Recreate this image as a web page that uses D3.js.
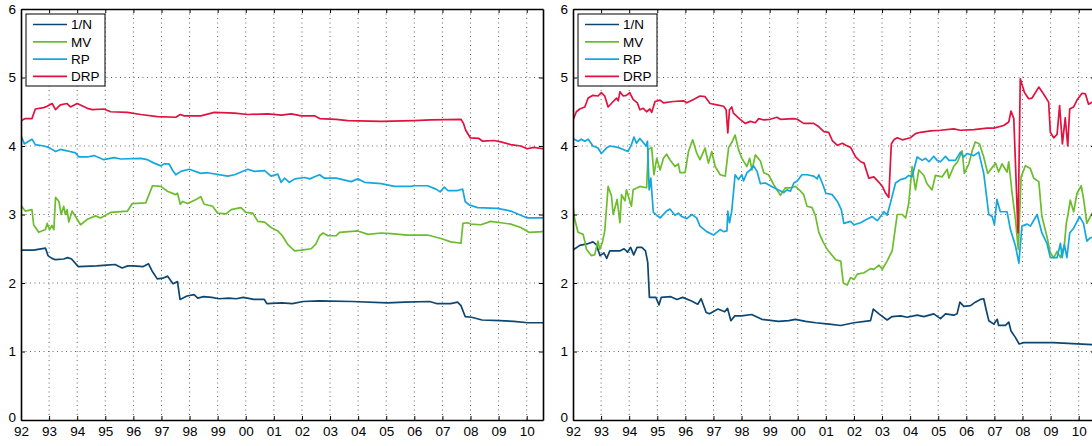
<!DOCTYPE html>
<html>
<head>
<meta charset="utf-8">
<script src="https://cdn.jsdelivr.net/npm/d3@7"></script>
<style>
  body { margin: 0; background: #fff; }
  svg { display: block; font-family: "Liberation Sans", Arial, sans-serif; }
</style>
</head>
<body>
<svg id="chart" width="1092" height="446"></svg>
<script>
// legend names and colours
const seriesNames = ["1/N", "MV", "RP", "DRP"];
const seriesColors = ["#0d4771", "#6cbd2c", "#14a7df", "#e0123f"];

// x ticks (years) and their labels
const yearTicks = d3.range(1992, 2011);
const yearLabels = ["92","93","94","95","96","97","98","99","00","01","02","03","04","05","06","07","08","09","10"];
const yTicks = [0, 1, 2, 3, 4, 5, 6];

// left panel, [year, value]
const leftN = [[1992.0,2.48],[1992.45,2.48],[1992.87,2.51],[1992.96,2.40],[1993.1,2.36],[1993.23,2.34],[1993.52,2.35],[1993.66,2.37],[1993.8,2.35],[1994.04,2.24],[1994.7,2.25],[1995.04,2.26],[1995.35,2.27],[1995.6,2.22],[1995.8,2.25],[1996.0,2.25],[1996.35,2.24],[1996.54,2.28],[1996.66,2.18],[1996.85,2.06],[1997.05,2.07],[1997.22,2.10],[1997.41,1.99],[1997.57,2.02],[1997.66,1.76],[1997.91,1.81],[1998.16,1.83],[1998.29,1.78],[1998.5,1.80],[1998.79,1.79],[1999.04,1.77],[1999.4,1.78],[1999.66,1.77],[1999.91,1.79],[2000.29,1.76],[2000.66,1.76],[2000.75,1.70],[2001.29,1.71],[2001.66,1.70],[2002.04,1.73],[2002.6,1.74],[2003.79,1.73],[2005.04,1.71],[2005.66,1.72],[2006.54,1.73],[2006.79,1.70],[2007.29,1.70],[2007.54,1.72],[2007.66,1.67],[2007.81,1.51],[2008.04,1.50],[2008.41,1.46],[2009.04,1.45],[2009.54,1.44],[2010.04,1.42],[2010.58,1.42]];
const leftMV = [[1992.0,3.13],[1992.15,3.05],[1992.39,3.07],[1992.45,2.85],[1992.63,2.74],[1992.87,2.78],[1992.93,2.87],[1993.02,2.78],[1993.1,2.84],[1993.17,2.78],[1993.23,3.25],[1993.35,3.19],[1993.43,3.0],[1993.52,3.12],[1993.58,3.0],[1993.64,3.07],[1993.7,2.89],[1993.82,3.05],[1994.0,2.93],[1994.12,2.85],[1994.36,2.93],[1994.65,2.98],[1994.83,2.95],[1995.19,3.03],[1995.79,3.05],[1995.96,3.16],[1996.44,3.17],[1996.68,3.42],[1996.98,3.41],[1997.21,3.34],[1997.51,3.29],[1997.57,3.31],[1997.67,3.15],[1997.75,3.19],[1997.93,3.16],[1998.23,3.22],[1998.4,3.26],[1998.52,3.15],[1998.82,3.12],[1999.0,3.02],[1999.3,3.01],[1999.48,3.07],[1999.83,3.10],[2000.0,3.03],[2000.25,3.02],[2000.43,2.90],[2000.67,2.89],[2000.9,2.81],[2001.14,2.76],[2001.3,2.69],[2001.5,2.56],[2001.74,2.47],[2001.98,2.48],[2002.33,2.50],[2002.5,2.57],[2002.63,2.69],[2002.75,2.73],[2002.93,2.69],[2003.22,2.69],[2003.34,2.74],[2003.99,2.76],[2004.35,2.71],[2004.82,2.73],[2005.17,2.72],[2005.76,2.70],[2006.47,2.70],[2006.95,2.65],[2007.3,2.60],[2007.66,2.58],[2007.73,2.87],[2007.9,2.88],[2008.01,2.86],[2008.37,2.85],[2008.72,2.90],[2009.08,2.88],[2009.43,2.86],[2009.79,2.81],[2010.08,2.74],[2010.58,2.75]];
const leftRP = [[1992.0,4.15],[1992.12,4.03],[1992.27,4.07],[1992.39,4.10],[1992.51,4.02],[1992.81,4.0],[1992.99,3.98],[1993.23,3.92],[1993.4,3.95],[1993.64,3.93],[1993.94,3.90],[1994.06,3.84],[1994.36,3.84],[1994.6,3.86],[1994.95,3.80],[1995.31,3.83],[1995.55,3.81],[1996.26,3.82],[1996.5,3.80],[1996.74,3.75],[1996.98,3.71],[1997.1,3.74],[1997.27,3.74],[1997.39,3.65],[1997.51,3.58],[1997.69,3.63],[1997.99,3.66],[1998.4,3.60],[1998.64,3.61],[1999.36,3.56],[1999.6,3.58],[2000.07,3.66],[2000.31,3.63],[2000.67,3.64],[2000.9,3.56],[2001.14,3.59],[2001.26,3.47],[2001.38,3.53],[2001.55,3.47],[2001.75,3.52],[2002.1,3.54],[2002.28,3.52],[2002.45,3.55],[2002.63,3.58],[2002.8,3.53],[2003.22,3.53],[2003.75,3.48],[2003.99,3.52],[2004.23,3.47],[2004.82,3.45],[2005.29,3.41],[2005.88,3.41],[2006.0,3.42],[2006.47,3.42],[2006.77,3.37],[2006.92,3.33],[2007.07,3.40],[2007.19,3.35],[2007.54,3.35],[2007.72,3.37],[2007.81,3.19],[2007.95,3.14],[2008.25,3.10],[2008.96,3.09],[2009.43,3.05],[2009.79,2.99],[2010.02,2.95],[2010.58,2.95]];
const leftDRP = [[1992.0,4.37],[1992.15,4.40],[1992.39,4.40],[1992.51,4.54],[1992.81,4.56],[1992.93,4.58],[1993.11,4.62],[1993.23,4.53],[1993.4,4.60],[1993.64,4.62],[1993.76,4.57],[1994.0,4.62],[1994.36,4.55],[1994.54,4.53],[1994.95,4.54],[1995.19,4.50],[1995.79,4.49],[1996.26,4.46],[1996.86,4.43],[1997.51,4.42],[1997.67,4.46],[1997.81,4.44],[1998.4,4.44],[1998.88,4.49],[1999.6,4.48],[2000.07,4.46],[2000.79,4.47],[2001.27,4.45],[2001.62,4.47],[2001.98,4.44],[2002.45,4.44],[2002.63,4.40],[2003.22,4.39],[2003.63,4.37],[2004.82,4.36],[2006.0,4.37],[2006.59,4.38],[2007.66,4.39],[2007.75,4.33],[2007.83,4.23],[2007.99,4.12],[2008.3,4.11],[2008.43,4.07],[2008.84,4.08],[2009.08,4.06],[2009.43,4.02],[2009.79,4.0],[2010.02,3.96],[2010.26,3.98],[2010.58,3.96]];

// right panel, [year, value]
const rightN = [[1992.0,2.48],[1992.24,2.55],[1992.5,2.57],[1992.71,2.60],[1992.83,2.56],[1992.96,2.40],[1993.1,2.44],[1993.2,2.36],[1993.31,2.47],[1993.68,2.47],[1993.82,2.50],[1993.94,2.45],[1994.05,2.52],[1994.16,2.41],[1994.28,2.52],[1994.45,2.52],[1994.58,2.47],[1994.66,2.30],[1994.72,1.79],[1994.95,1.79],[1995.06,1.68],[1995.14,1.79],[1995.48,1.80],[1995.7,1.76],[1995.9,1.79],[1996.2,1.74],[1996.44,1.69],[1996.56,1.77],[1996.74,1.57],[1996.86,1.55],[1997.16,1.62],[1997.4,1.58],[1997.5,1.63],[1997.62,1.45],[1997.76,1.52],[1998.0,1.52],[1998.36,1.54],[1998.72,1.47],[1999.32,1.44],[1999.68,1.45],[1999.92,1.47],[2000.28,1.44],[2000.64,1.42],[2001.12,1.40],[2001.53,1.38],[2002.0,1.42],[2002.59,1.45],[2002.69,1.62],[2002.89,1.55],[2003.18,1.46],[2003.36,1.51],[2003.66,1.52],[2003.9,1.50],[2004.25,1.53],[2004.49,1.51],[2004.84,1.55],[2005.08,1.48],[2005.26,1.55],[2005.55,1.53],[2005.67,1.55],[2005.77,1.72],[2005.91,1.66],[2006.15,1.67],[2006.32,1.72],[2006.5,1.76],[2006.62,1.77],[2006.7,1.62],[2006.8,1.45],[2006.98,1.40],[2007.1,1.47],[2007.15,1.38],[2007.39,1.38],[2007.51,1.43],[2007.59,1.30],[2007.74,1.21],[2007.88,1.11],[2008.04,1.13],[2009.1,1.13],[2010.48,1.10],[2010.58,1.10]];
const rightMV = [[1992.0,3.12],[1992.06,2.93],[1992.18,2.74],[1992.36,2.71],[1992.42,2.61],[1992.48,2.49],[1992.54,2.46],[1992.65,2.40],[1992.77,2.41],[1992.89,2.61],[1992.95,2.49],[1993.05,2.60],[1993.13,2.76],[1993.25,3.41],[1993.37,3.27],[1993.43,3.0],[1993.57,3.22],[1993.67,2.88],[1993.73,3.29],[1993.85,3.20],[1993.9,3.36],[1994.08,3.12],[1994.14,3.36],[1994.38,3.41],[1994.62,3.39],[1994.68,3.95],[1994.8,3.98],[1994.88,3.58],[1994.98,3.82],[1995.1,3.65],[1995.22,3.82],[1995.33,3.88],[1995.45,3.80],[1995.63,3.70],[1995.75,3.74],[1995.81,3.61],[1995.99,3.61],[1996.11,3.92],[1996.26,4.09],[1996.4,3.90],[1996.52,3.80],[1996.7,3.97],[1996.82,3.75],[1996.94,3.92],[1997.06,3.70],[1997.24,3.58],[1997.42,3.56],[1997.54,3.98],[1997.65,4.05],[1997.77,4.16],[1997.89,3.95],[1998.01,3.82],[1998.19,3.70],[1998.29,3.82],[1998.37,3.65],[1998.49,3.87],[1998.67,3.78],[1998.79,3.61],[1998.96,3.58],[1999.14,3.44],[1999.38,3.28],[1999.56,3.39],[1999.74,3.39],[1999.92,3.41],[2000.1,3.34],[2000.21,3.29],[2000.33,3.12],[2000.51,3.10],[2000.63,2.98],[2000.75,2.74],[2000.9,2.60],[2001.05,2.49],[2001.35,2.34],[2001.53,2.32],[2001.62,2.0],[2001.76,1.97],[2001.88,2.08],[2002.0,2.05],[2002.12,2.13],[2002.36,2.15],[2002.59,2.21],[2002.71,2.20],[2002.89,2.26],[2003.01,2.20],[2003.18,2.32],[2003.36,2.47],[2003.54,3.0],[2003.72,3.0],[2003.84,2.95],[2003.95,3.16],[2004.07,3.70],[2004.19,3.36],[2004.31,3.65],[2004.49,3.57],[2004.6,3.45],[2004.78,3.36],[2004.9,3.57],[2005.14,3.55],[2005.32,3.66],[2005.38,3.53],[2005.55,3.70],[2005.69,3.77],[2005.85,3.93],[2005.93,3.60],[2006.09,3.74],[2006.21,3.93],[2006.32,4.06],[2006.47,4.03],[2006.62,3.84],[2006.76,3.60],[2007.04,3.75],[2007.15,3.62],[2007.27,3.74],[2007.45,3.62],[2007.51,3.77],[2007.63,3.31],[2007.75,2.92],[2007.85,2.49],[2007.95,3.55],[2008.1,3.71],[2008.28,3.67],[2008.4,3.53],[2008.58,3.48],[2008.69,2.97],[2008.87,2.68],[2008.99,2.44],[2009.11,2.37],[2009.23,2.46],[2009.35,2.37],[2009.49,2.56],[2009.56,2.88],[2009.62,3.0],[2009.7,3.21],[2009.82,3.04],[2009.94,3.31],[2010.09,3.42],[2010.18,3.21],[2010.29,2.87],[2010.48,3.02],[2010.58,3.0]];
const rightRP = [[1992.0,4.11],[1992.18,4.07],[1992.3,4.10],[1992.42,4.07],[1992.54,4.10],[1992.71,4.0],[1992.89,3.97],[1993.01,3.89],[1993.19,3.97],[1993.31,4.0],[1993.6,3.98],[1993.79,3.95],[1993.96,3.92],[1994.08,4.02],[1994.17,4.13],[1994.26,4.04],[1994.38,4.11],[1994.5,4.05],[1994.6,4.0],[1994.65,4.07],[1994.71,3.36],[1994.77,3.53],[1994.86,3.03],[1995.1,2.95],[1995.33,3.05],[1995.45,3.08],[1995.63,2.99],[1995.75,3.02],[1995.87,2.97],[1996.05,2.94],[1996.23,3.0],[1996.4,2.95],[1996.52,2.83],[1996.76,2.75],[1997.0,2.70],[1997.24,2.78],[1997.36,2.75],[1997.48,2.76],[1997.51,3.05],[1997.57,2.88],[1997.65,3.05],[1997.77,3.58],[1997.89,3.51],[1998.01,3.58],[1998.07,3.49],[1998.19,3.61],[1998.31,3.65],[1998.43,3.71],[1998.55,3.63],[1998.67,3.45],[1998.85,3.46],[1999.02,3.42],[1999.26,3.37],[1999.5,3.32],[1999.62,3.36],[1999.74,3.34],[1999.86,3.46],[1999.98,3.49],[2000.15,3.58],[2000.33,3.58],[2000.57,3.56],[2000.69,3.52],[2000.75,3.58],[2000.9,3.43],[2001.0,3.31],[2001.23,3.29],[2001.41,3.19],[2001.55,3.07],[2001.64,2.87],[2001.88,2.90],[2002.0,2.85],[2002.24,2.88],[2002.41,2.92],[2002.65,2.97],[2002.83,2.91],[2003.07,3.04],[2003.18,2.99],[2003.3,3.17],[2003.48,3.46],[2003.66,3.51],[2003.84,3.53],[2003.95,3.57],[2004.07,3.55],[2004.25,3.84],[2004.43,3.79],[2004.55,3.82],[2004.67,3.77],[2004.84,3.85],[2004.96,3.79],[2005.08,3.77],[2005.26,3.85],[2005.38,3.79],[2005.61,3.79],[2005.79,3.91],[2005.91,3.84],[2006.03,3.89],[2006.27,3.86],[2006.44,3.91],[2006.62,3.60],[2006.8,3.0],[2006.92,2.97],[2007.0,2.85],[2007.09,3.22],[2007.21,3.04],[2007.45,3.04],[2007.57,2.78],[2007.75,2.54],[2007.87,2.29],[2007.98,2.83],[2008.16,2.86],[2008.28,2.83],[2008.52,3.0],[2008.69,2.73],[2008.87,2.58],[2008.99,2.37],[2009.23,2.37],[2009.35,2.58],[2009.41,2.37],[2009.49,2.56],[2009.58,2.37],[2009.68,2.73],[2009.82,2.80],[2010.03,2.97],[2010.17,2.87],[2010.29,2.61],[2010.41,2.66],[2010.58,2.68]];
const rightDRP = [[1992.0,4.38],[1992.12,4.50],[1992.24,4.54],[1992.42,4.57],[1992.54,4.70],[1992.71,4.74],[1992.89,4.73],[1993.01,4.78],[1993.13,4.73],[1993.25,4.57],[1993.43,4.65],[1993.55,4.70],[1993.61,4.66],[1993.67,4.79],[1993.79,4.73],[1993.9,4.74],[1994.02,4.78],[1994.14,4.68],[1994.29,4.63],[1994.38,4.53],[1994.5,4.55],[1994.62,4.50],[1994.74,4.54],[1994.8,4.49],[1994.92,4.65],[1995.1,4.67],[1995.22,4.63],[1995.57,4.65],[1995.93,4.66],[1996.05,4.63],[1996.29,4.68],[1996.52,4.73],[1996.7,4.72],[1996.88,4.62],[1997.12,4.60],[1997.36,4.58],[1997.45,4.53],[1997.51,4.19],[1997.57,4.53],[1997.65,4.57],[1997.71,4.48],[1997.95,4.39],[1998.13,4.33],[1998.31,4.36],[1998.49,4.34],[1998.61,4.40],[1998.79,4.38],[1999.02,4.39],[1999.26,4.42],[1999.38,4.39],[1999.86,4.40],[1999.98,4.39],[2000.21,4.33],[2000.57,4.33],[2000.75,4.28],[2000.93,4.21],[2001.1,4.20],[2001.23,4.08],[2001.41,4.01],[2001.59,4.04],[2001.71,4.01],[2001.88,3.98],[2002.06,3.84],[2002.24,3.77],[2002.36,3.75],[2002.53,3.53],[2002.71,3.55],[2002.89,3.47],[2003.01,3.41],[2003.13,3.31],[2003.24,3.25],[2003.33,4.03],[2003.42,4.09],[2003.54,4.12],[2003.72,4.09],[2004.01,4.12],[2004.19,4.18],[2004.37,4.20],[2004.73,4.22],[2005.08,4.23],[2005.55,4.25],[2005.79,4.23],[2006.27,4.24],[2006.74,4.26],[2006.98,4.26],[2007.33,4.30],[2007.51,4.35],[2007.59,4.51],[2007.69,4.40],[2007.84,2.73],[2007.92,4.98],[2008.07,4.78],[2008.22,4.69],[2008.34,4.70],[2008.58,4.86],[2008.75,4.76],[2008.93,4.64],[2008.99,4.20],[2009.11,4.12],[2009.23,4.17],[2009.32,4.59],[2009.42,4.03],[2009.52,4.41],[2009.61,4.0],[2009.68,4.54],[2009.82,4.57],[2009.94,4.67],[2010.12,4.77],[2010.24,4.76],[2010.35,4.61],[2010.48,4.64],[2010.58,4.63]];

const svg = d3.select("#chart");

function drawPanel(id, left, series) {
    var width = 522, top = 9, bottom = 420;
    var x = d3.scaleLinear().domain([1992, 2010.58]).range([left, left + width]);
    var y = d3.scaleLinear().domain([0, 6]).range([bottom, top]);

    var g = svg.append("g").attr("id", id);

    //dotted grid
    g.append("g")
        .selectAll("line.vg")
        .data(yearTicks.slice(1))
        .join("line")
        .attr("x1", d => x(d)).attr("x2", d => x(d))
        .attr("y1", top).attr("y2", bottom)
        .attr("stroke", "#666").attr("stroke-dasharray", "1,3.5");
    g.append("g")
        .selectAll("line.hg")
        .data(yTicks.slice(1, -1))
        .join("line")
        .attr("x1", left).attr("x2", left + width)
        .attr("y1", d => y(d)).attr("y2", d => y(d))
        .attr("stroke", "#666").attr("stroke-dasharray", "1,3.5");

    //lines
    svg.append("clipPath").attr("id", id + "-clip")
        .append("rect").attr("x", left).attr("y", top).attr("width", width).attr("height", bottom - top);
    var line = d3.line().x(d => x(d[0])).y(d => y(d[1]));
    g.append("g").attr("clip-path", "url(#" + id + "-clip)")
        .selectAll("path")
        .data(series)
        .join("path")
        .attr("d", d => line(d))
        .attr("fill", "none")
        .attr("stroke", (d, i) => seriesColors[i])
        .attr("stroke-width", 1.7)
        .attr("stroke-linejoin", "round");

    //axes with inward ticks
    var bottomAxis = d3.axisBottom(x).tickValues(yearTicks)
        .tickFormat((d, i) => yearLabels[i]).tickSizeInner(-4).tickSizeOuter(0).tickPadding(6);
    var leftAxis = d3.axisLeft(y).tickValues(yTicks).tickFormat(d3.format("d"))
        .tickSizeInner(-4).tickSizeOuter(0).tickPadding(5);
    var topAxis = d3.axisTop(x).tickValues(yearTicks).tickFormat("").tickSizeInner(-4).tickSizeOuter(0);
    var rightAxis = d3.axisRight(y).tickValues(yTicks).tickFormat("").tickSizeInner(-4).tickSizeOuter(0);

    var ax = [
        g.append("g").attr("transform", "translate(0," + bottom + ")").call(bottomAxis),
        g.append("g").attr("transform", "translate(" + left + ",0)").call(leftAxis),
        g.append("g").attr("transform", "translate(0," + top + ")").call(topAxis),
        g.append("g").attr("transform", "translate(" + (left + width) + ",0)").call(rightAxis)
    ];
    ax.forEach(a => {
        a.selectAll(".domain").attr("stroke", "#000").attr("stroke-width", 1.6);
        a.selectAll(".tick line").attr("stroke", "#000");
        a.selectAll("text").attr("fill", "#000")
            .style("font-family", "'Liberation Sans', Arial, sans-serif").style("font-size", "13.5px");
    });
    // the zero label sits a bit higher so it clears the year labels
    ax[1].selectAll(".tick").filter(d => d === 0).select("text").attr("y", -3);

    //legend
    var lx = left + 5, ly = 14;
    var legend = g.append("g");
    legend.append("rect")
        .attr("x", lx).attr("y", ly).attr("width", 79).attr("height", 72)
        .attr("fill", "#fff").attr("stroke", "#000").attr("stroke-width", 1);
    seriesNames.forEach((name, i) => {
        var yy = ly + 10.5 + i * 17.3;
        legend.append("line")
            .attr("x1", lx + 7).attr("x2", lx + 41)
            .attr("y1", yy).attr("y2", yy)
            .attr("stroke", seriesColors[i]).attr("stroke-width", 1.7);
        legend.append("text")
            .attr("x", lx + 45).attr("y", yy).attr("dy", "0.36em")
            .style("font-size", "13.5px")
            .text(name);
    });
}

drawPanel("left-panel", 21, [leftN, leftMV, leftRP, leftDRP]);
drawPanel("right-panel", 573, [rightN, rightMV, rightRP, rightDRP]);
</script>
</body>
</html>
